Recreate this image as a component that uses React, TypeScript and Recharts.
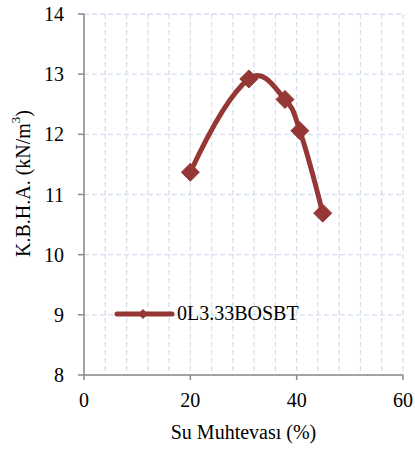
import React from 'react';
import { LineChart, Line, XAxis, YAxis, CartesianGrid, Label } from 'recharts';

const moisture = [20, 31, 37.8, 40.6, 44.9];
const density = [11.37, 12.92, 12.58, 12.06, 10.69];
const xTicks = [0, 20, 40, 60];
const yTicks = [8, 9, 10, 11, 12, 13, 14];
const gridXValues = [0, 4, 8, 12, 16, 20, 24, 28, 32, 36, 40, 44, 48, 52, 56, 60];
const seriesName = '0L3.33BOSBT';

const data = moisture.map((m, i) => ({ m, d: density[i] }));

const COLOR = '#953735';
const AXIS = '#8a8a8a';
const GRID = '#d5dff0';
const FONT = '"Liberation Serif", "Times New Roman", serif';

// Excel-like smooth line (Catmull-Rom as cubic Bezier, parabolic end tangents)
function excelCurve(context: any) {
  let pts: number[][] = [];
  return {
    areaStart() {},
    areaEnd() {},
    lineStart() { pts = []; },
    point(x: number, y: number) { pts.push([+x, +y]); },
    lineEnd() {
      const n = pts.length;
      if (!n) return;
      context.moveTo(pts[0][0], pts[0][1]);
      if (n === 1) return;
      if (n === 2) { context.lineTo(pts[1][0], pts[1][1]); return; }
      const T: number[][] = [];
      for (let i = 0; i < n; i++) {
        if (i > 0 && i < n - 1) {
          T.push([(pts[i + 1][0] - pts[i - 1][0]) / 2, (pts[i + 1][1] - pts[i - 1][1]) / 2]);
        } else T.push([0, 0]);
      }
      T[0] = [2 * (pts[1][0] - pts[0][0]) - T[1][0], 2 * (pts[1][1] - pts[0][1]) - T[1][1]];
      T[n - 1] = [
        2 * (pts[n - 1][0] - pts[n - 2][0]) - T[n - 2][0],
        2 * (pts[n - 1][1] - pts[n - 2][1]) - T[n - 2][1],
      ];
      for (let i = 0; i < n - 1; i++) {
        const p1 = pts[i];
        const p2 = pts[i + 1];
        context.bezierCurveTo(
          p1[0] + T[i][0] / 3, p1[1] + T[i][1] / 3,
          p2[0] - T[i + 1][0] / 3, p2[1] - T[i + 1][1] / 3,
          p2[0], p2[1]
        );
      }
    },
  };
}

const Diamond = (props: any) => {
  const { cx, cy } = props;
  const s = 9;
  if (cx == null || cy == null) return null;
  return (
    <polygon
      points={`${cx},${cy - s} ${cx + s},${cy} ${cx},${cy + s} ${cx - s},${cy}`}
      fill={COLOR}
      stroke={COLOR}
    />
  );
};

const YLabel = (props: any) => {
  const vb = props.viewBox || { x: 0, y: 0, width: 84, height: 361 };
  const x = vb.x + 23;
  const y = vb.y + vb.height / 2 - 11;
  return (
    <text
      x={x}
      y={y}
      transform={`rotate(-90 ${x} ${y})`}
      textAnchor="middle"
      dominantBaseline="central"
      fontFamily={FONT}
      fontSize={20}
      fill="#000"
    >
      K.B.H.A. (kN/m<tspan dy={-8} fontSize={13}>3</tspan><tspan dy={8}>)</tspan>
    </text>
  );
};

const LegendBox = () => (
  <svg width={220} height={30} style={{ position: 'absolute', left: 110, top: 299 }}>
    <line x1={7} y1={15} x2={62} y2={15} stroke={COLOR} strokeWidth={5} strokeLinecap="round" />
    <polygon points="33,10 38,15 33,20 28,15" fill={COLOR} />
    <text x={67} y={21} fontFamily={FONT} fontSize={20} fill="#000">{seriesName}</text>
  </svg>
);

export default function App() {
  return (
    <div style={{ position: 'absolute', left: 0, top: 0, width: 415, height: 450 }}>
      <LineChart
        width={415}
        height={450}
        data={data}
        margin={{ top: 14, right: 12, left: 0, bottom: 0 }}
      >
        <CartesianGrid
          stroke={GRID}
          strokeWidth={1.3}
          strokeDasharray="5 3"
          verticalCoordinatesGenerator={(p: any) => {
            const sc = p?.xAxis?.scale;
            if (sc && typeof sc === 'function') return gridXValues.map((v) => sc(v));
            const off = p.offset;
            return gridXValues.map((v) => off.left + (v / 60) * off.width);
          }}
        />
        <XAxis
          dataKey="m"
          type="number"
          domain={[0, 60]}
          ticks={xTicks}
          height={75}
          stroke={AXIS}
          strokeWidth={1.5}
          tickSize={5}
          tickMargin={13}
          tick={{ fill: '#000', fontFamily: FONT, fontSize: 20 }}
        >
          <Label
            value="Su Muhtevası (%)"
            position="insideBottom"
            offset={11}
            style={{ fill: '#000', fontFamily: FONT, fontSize: 20 }}
          />
        </XAxis>
        <YAxis
          type="number"
          domain={[8, 14]}
          ticks={yTicks}
          width={84}
          stroke={AXIS}
          strokeWidth={1.5}
          tickSize={6}
          tickMargin={14}
          tick={{ fill: '#000', fontFamily: FONT, fontSize: 20 }}
          label={<YLabel />}
        />
        <Line
          dataKey="d"
          name={seriesName}
          type={excelCurve as any}
          stroke={COLOR}
          strokeWidth={5}
          dot={<Diamond />}
          activeDot={false}
          isAnimationActive={false}
        />
      </LineChart>
      <LegendBox />
    </div>
  );
}
